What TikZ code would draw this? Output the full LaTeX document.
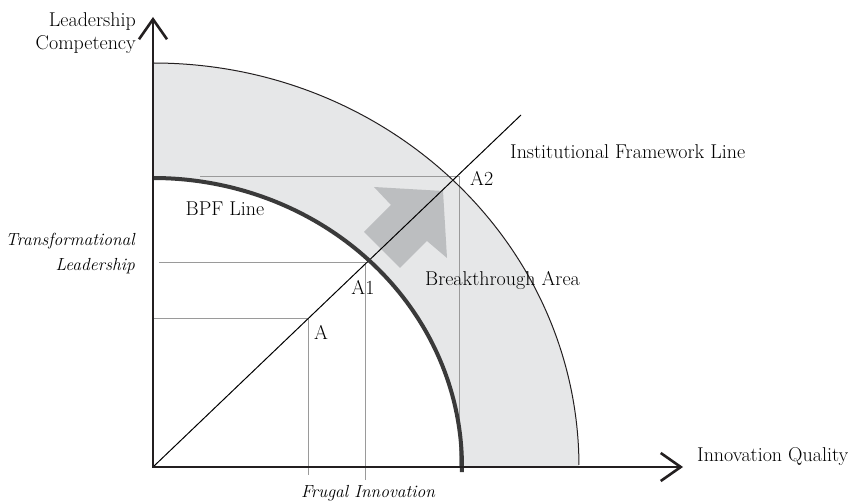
\documentclass[tikz,border=0pt]{standalone}
\usetikzlibrary{arrows.meta}
\definecolor{bandgray}{HTML}{E6E7E8}
\definecolor{pushgray}{HTML}{BCBEC0}
\definecolor{projgray}{HTML}{9A9A9A}
\definecolor{axisgray}{HTML}{231F20}
\definecolor{bpfgray}{HTML}{3A3A3A}

\begin{document}
\begin{tikzpicture}[x=1pt,y=1pt,
  lbl/.style={font=\fontsize{20}{23}\selectfont, inner sep=0pt},
  ilbl/.style={font=\fontsize{17.5}{25}\selectfont\itshape, inner sep=0pt},
  proj/.style={draw=projgray, line width=1pt},
  axis/.style={draw=axisgray, line width=2.6pt, line join=miter,
    {Straight Barb[length=20pt,width=28pt]}-{Straight Barb[length=20pt,width=28pt]}}]
\useasboundingbox (-153,-36) rectangle (698,467);
% band between the two frontiers
\fill[bandgray] (0,404) arc[start angle=90,end angle=0,x radius=426,y radius=404]
  -- (309,0) arc[start angle=0,end angle=90,x radius=309,y radius=289] -- cycle;

\coordinate (O) at (0,0);
\coordinate (A) at (155,148);
\coordinate (A1) at (212,204);
\coordinate (A2) at (306,290);
\coordinate (ifl) at (368,352);

% projections onto the axes
\draw[proj] (A -| O) -- (A) -- ([yshift=-8pt]A |- O);
\draw[proj] ([xshift=6pt]A1 -| O) -- (A1) -- ([yshift=-13pt]A1 |- O);
\draw[proj] ([xshift=47pt]A2 -| O) -- (A2) -- (A2 |- O);

% push towards the breakthrough area
\fill[pushgray] (211,235) -- (238,262) -- (221,280) -- (290,276)
  -- (294,209) -- (274,226) -- (247,199) -- cycle;

\draw[line width=1pt] (O) -- (ifl);
\draw[bpfgray, line width=4pt] (0,289) arc[start angle=90,end angle=-1,x radius=309,y radius=289];
\draw[axisgray, line width=1pt] (0,404) arc[start angle=90,end angle=0.3,x radius=426,y radius=404];
\draw[axis] (0,450) -- (O) -- (530,0);

\node[lbl, anchor=east, align=right] (ylab) at (-17,434) {Leadership\\Competency};
\node[ilbl, anchor=east, align=right] (tl) at (-18,213) {Transformational\\Leadership};
\node[ilbl] (fi) at (215,-26) {Frugal Innovation};
\node[lbl, anchor=west] (xlab) at (544,10) {Innovation Quality};
\node[lbl, anchor=west] (ifltxt) at (357,315) {Institutional Framework Line};
\node[lbl] (bpf) at (72,258) {BPF Line};
\node[lbl, anchor=west] (bta) at (272,187) {Breakthrough Area};
\node[lbl, anchor=west] (a2lab) at (317,289) {A2};
\node[lbl] (a1lab) at (210,180) {A1};
\node[lbl, anchor=west] (alab) at (161,135) {A};
\end{tikzpicture}
\end{document}
